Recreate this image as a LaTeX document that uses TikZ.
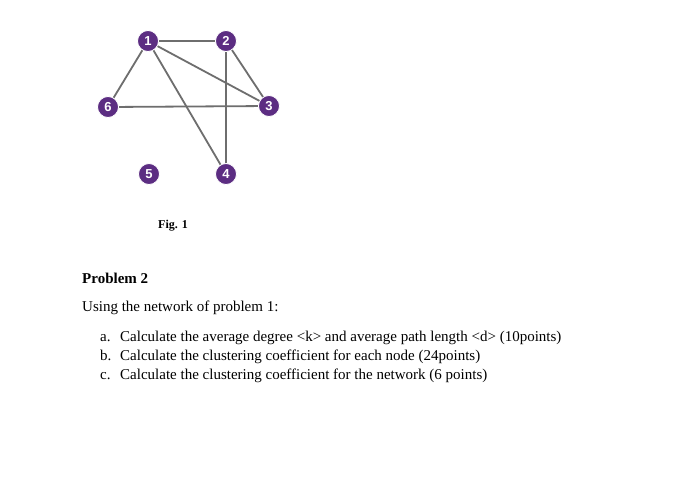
\documentclass[tikz,border=0pt]{standalone}
\usepackage{fontspec}
\setmainfont{Liberation Serif}
\newfontfamily\numfont{Liberation Sans}
\usepackage{tikz}
\definecolor{grape}{HTML}{5C2D82}
\definecolor{edgegray}{HTML}{6E6E6E}

\begin{document}
\begin{tikzpicture}[
  x=1pt,y=-1pt,
  vtx/.style={circle,fill=grape,draw=white,line width=0.8pt,inner sep=0pt,
              minimum size=21pt,text=white,font=\numfont\bfseries\fontsize{13}{13}\selectfont},
  link/.style={draw=edgegray,line width=1.8pt},
  txt/.style={anchor=base west,inner sep=0pt,font=\fontsize{15}{15}\selectfont}
]
\useasboundingbox[fill=white] (0,0) rectangle (700,491);
% network
\coordinate (c1) at (148,41);
\coordinate (c2) at (226,41);
\coordinate (c3) at (269,106);
\coordinate (c4) at (226,174);
\coordinate (c5) at (149,174);
\coordinate (c6) at (108,107);
\draw[link] (c1) -- (c2);
\draw[link] (c1) -- (c6);
\draw[link] (c1) -- (c3);
\draw[link] (c1) -- (c4);
\draw[link] (c2) -- (c3);
\draw[link] (c2) -- (c4);
\draw[link] (c6) -- (c3);
\foreach \i in {1,...,6}
  \node[vtx] (n\i) at (c\i) {\i};
% caption and problem text
\node[txt,font=\bfseries\fontsize{12}{12}\selectfont] (fig) at (158,228) {Fig. 1};
\node[txt,font=\bfseries\fontsize{15}{15}\selectfont] (title) at (82,283) {Problem 2};
\node[txt] (intro) at (82,311) {Using the network of problem 1:};
\node[txt] (la) at (100,341) {a.};
\node[txt] (ia) at (120,341) {Calculate the average degree <k> and average path length <d> (10points)};
\node[txt] (lb) at (100,360) {b.};
\node[txt] (ib) at (120,360) {Calculate the clustering coefficient for each node (24points)};
\node[txt] (lc) at (100,379) {c.};
\node[txt] (ic) at (120,379) {Calculate the clustering coefficient for the network (6 points)};
\end{tikzpicture}
\end{document}
